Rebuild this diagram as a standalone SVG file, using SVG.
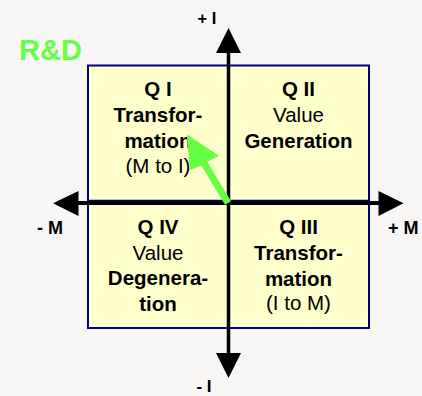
<svg xmlns="http://www.w3.org/2000/svg" width="422" height="396" viewBox="0 0 422 396">
<style>
.t{font-family:"Liberation Sans",Arial,sans-serif;font-size:20.5px;fill:#000;text-anchor:middle}
.b{font-weight:bold}
.ax{font-family:"Liberation Sans",Arial,sans-serif;font-size:18px;font-weight:bold;fill:#000}
.axis{stroke:#000;stroke-width:3.5;fill:none}
.head{fill:#000}
</style>
<rect width="422" height="396" fill="#f7f6f5"/>
<text x="19" y="60" font-family="Liberation Sans,Arial,sans-serif" font-size="29" font-weight="bold" fill="#66ff44">R&amp;D</text>
<g id="box">
<rect x="88" y="65.5" width="281" height="262.5" fill="#ffffcc" stroke="#000080" stroke-width="2"/>
<line x1="88" y1="200.5" x2="369" y2="200.5" stroke="#000080" stroke-width="1.5"/>
</g>
<g id="q1">
<text class="t b" x="158" y="96">Q I</text>
<text class="t b" x="158" y="122">Transfor-</text>
<text class="t b" x="158" y="148">mation</text>
<text class="t" x="158" y="173">(M to I)</text>
</g>
<g id="q2">
<text class="t b" x="298.5" y="96">Q II</text>
<text class="t" x="298.5" y="122">Value</text>
<text class="t b" x="298.5" y="148">Generation</text>
</g>
<g id="q4">
<text class="t b" x="158" y="234">Q IV</text>
<text class="t" x="158" y="260">Value</text>
<text class="t b" x="158" y="285">Degenera-</text>
<text class="t b" x="158" y="311">tion</text>
</g>
<g id="q3">
<text class="t b" x="298.5" y="234">Q III</text>
<text class="t b" x="298.5" y="260">Transfor-</text>
<text class="t b" x="298.5" y="285.5">mation</text>
<text class="t" x="298.5" y="310">(I to M)</text>
</g>
<g id="connectors">
<line class="axis" x1="78" y1="203" x2="379" y2="203" style="stroke-width:4"/>
<line class="axis" x1="228.5" y1="52" x2="228.5" y2="354"/>
<polygon class="head" points="216,53 228.5,28 241,53"/>
<polygon class="head" points="216,353 228.5,378 241,353"/>
<polygon class="head" points="78.5,191 53,203.3 78.5,216"/>
<polygon class="head" points="378.5,191 403.5,203.3 378.5,216"/>
<polygon fill="#66ff44" points="225,204.8 231,201.2 207.4,161.8 219,155.7 186.7,134.3 190,170 201.4,165.4"/>
</g>
<text class="ax" x="207" y="24" text-anchor="middle" style="font-size:16.5px">+ I</text>
<text class="ax" x="204" y="392" text-anchor="middle" style="font-size:17px">- I</text>
<text class="ax" x="37" y="234">- M</text>
<text class="ax" x="388" y="234">+ M</text>
</svg>
